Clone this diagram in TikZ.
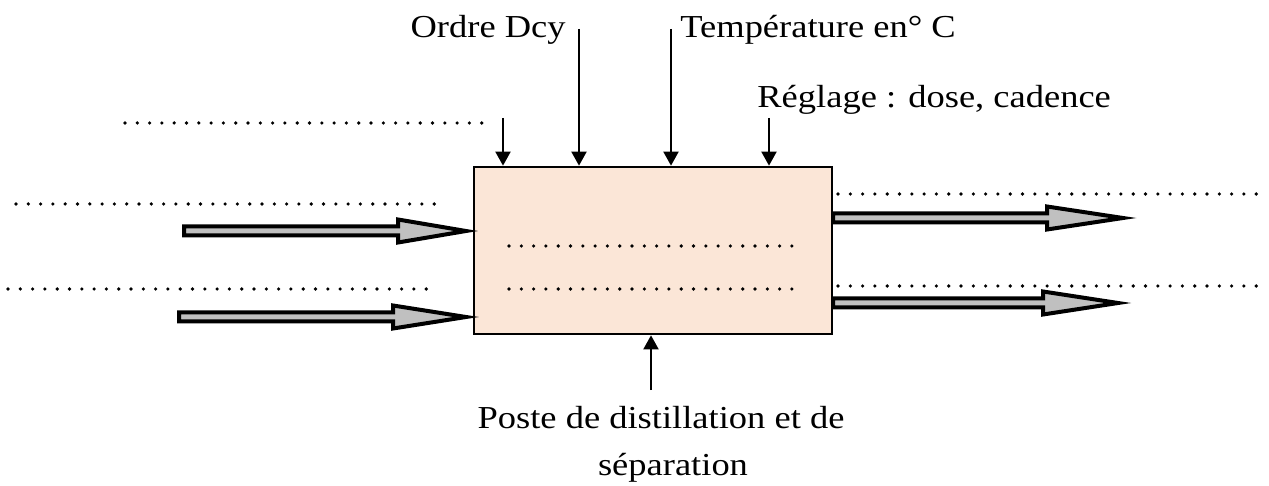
\documentclass[tikz,border=0pt]{standalone}
\usepackage{fontspec}
\setmainfont[FakeStretch=1.14]{Liberation Serif}
\usetikzlibrary{arrows.meta}
\definecolor{boxfill}{RGB}{251,230,215}
\definecolor{arrowgray}{RGB}{192,192,192}
\newcommand\barrowshape[5]{% name, tail x, head x, tip x, y
  \draw[blockarrow] (#2,#5-4.5) -- (#3,#5-4.5) -- (#3,#5-11.5) -- (#4,#5) coordinate (#1) -- (#3,#5+11.5) -- (#3,#5+4.5) -- (#2,#5+4.5) -- cycle;}
\begin{document}
\begin{tikzpicture}[x=0.5pt,y=-0.5pt,
  every node/.style={font=\fontsize{16pt}{19pt}\selectfont, inner sep=0pt},
  dotline/.style={line width=1.8pt, dash pattern=on 0pt off 6.15pt, line cap=round},
  thinarrow/.style={line width=1pt, -{Triangle[width=7.5pt,length=7pt]}},
  blockarrow/.style={draw=black, fill=arrowgray, line width=2pt, line join=miter},
  mainbox/.style={draw=black, fill=boxfill, line width=1.35pt, minimum width=179pt, minimum height=83.5pt}]
\useasboundingbox (0,0) rectangle (1269,486);
% main box
\node[mainbox] (box) at (653,250.5) {};
% inner dotted lines
\coordinate (in1a) at (509,246); \coordinate (in1b) at (798,246);
\coordinate (in2a) at (509,289); \coordinate (in2b) at (798,289);
\draw[dotline] (in1a) -- (in1b);
\draw[dotline] (in2a) -- (in2b);
% left dotted lines
\coordinate (l1a) at (16,204); \coordinate (l1b) at (446,204);
\coordinate (l2a) at (8,289); \coordinate (l2b) at (437,289);
\draw[dotline] (l1a) -- (l1b);
\draw[dotline] (l2a) -- (l2b);
% top-left dotted line
\coordinate (tla) at (125,123); \coordinate (tlb) at (490,123);
\draw[dotline] (tla) -- (tlb);
% right dotted lines
\coordinate (r1a) at (838,194); \coordinate (r1b) at (1265,194);
\coordinate (r2a) at (838,286); \coordinate (r2b) at (1265,286);
\draw[dotline] (r1a) -- (r1b);
\draw[dotline] (r2a) -- (r2b);
% block arrows
\barrowshape{inA}{184}{398}{466}{231}
\barrowshape{inB}{179}{393}{466}{317}
\barrowshape{outA}{833}{1047}{1123}{218}
\barrowshape{outB}{833}{1043}{1118}{303}
% top arrows
\coordinate (t1) at (503,118);
\coordinate (t2) at (579,29);
\coordinate (t3) at (671,29);
\coordinate (t4) at (769,118);
\draw[thinarrow] (t1) -- (t1 |- box.north);
\draw[thinarrow] (t2) -- (t2 |- box.north);
\draw[thinarrow] (t3) -- (t3 |- box.north);
\draw[thinarrow] (t4) -- (t4 |- box.north);
% bottom arrow
\coordinate (b1) at (651,390);
\draw[thinarrow] (b1) -- (b1 |- box.south);
% texts
\node[anchor=base east] (ordre) at (566,38) {Ordre Dcy};
\node[anchor=base west] (temp) at (680,38) {Température en° C};
\node[anchor=base west] (regl) at (757,108) {Réglage : dose, cadence};
\node[anchor=base] (poste) at (661,428) {Poste de distillation et de};
\node[anchor=base] (sep) at (673,475) {séparation};
\end{tikzpicture}
\end{document}
